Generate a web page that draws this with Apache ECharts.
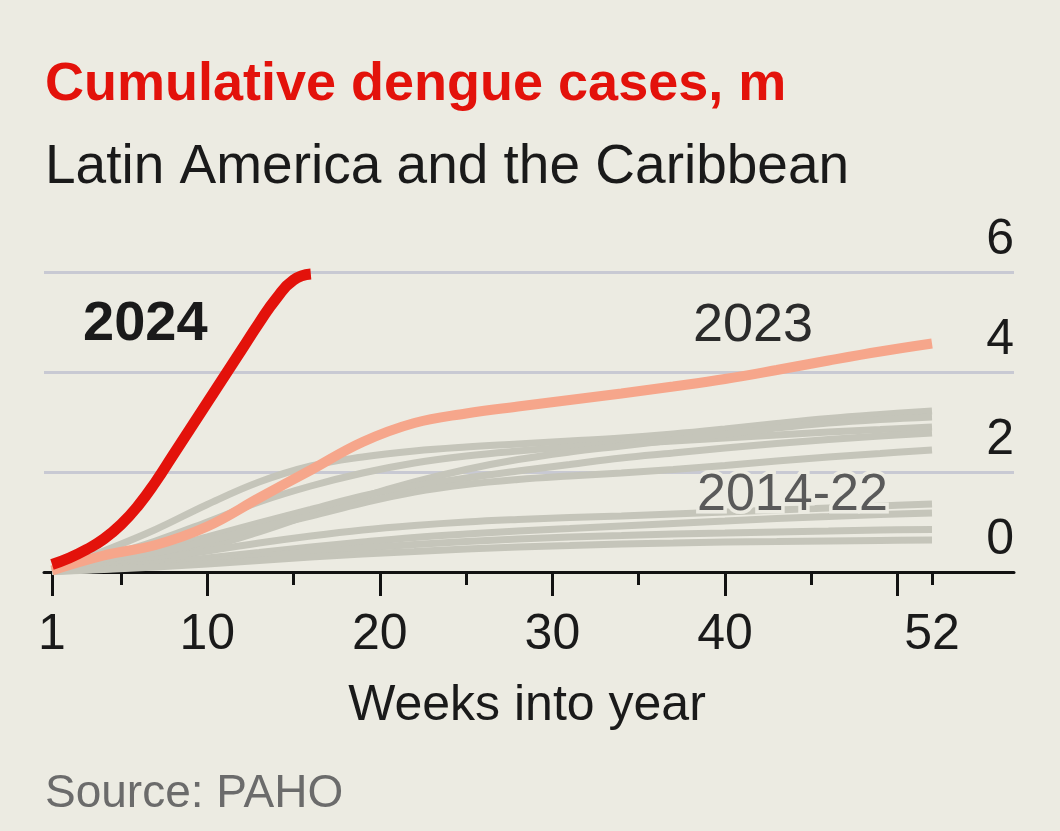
<!DOCTYPE html>
<html>
<head>
<meta charset="utf-8">
<script src="https://cdn.jsdelivr.net/npm/echarts@6/dist/echarts.min.js"></script>
<style>
  html, body { margin: 0; padding: 0; background: #ECEBE2; }
  #chart { width: 1060px; height: 831px; }
</style>
</head>
<body>
<div id="chart"></div>
<script>
// ---- Data, millions of cumulative cases ----
const weeks2024 = [1, 2, 3, 4, 5, 6, 7, 8, 9, 10, 11, 12, 13, 14, 15, 16];
const cases2024 = [0.15, 0.28, 0.45, 0.66, 0.95, 1.33, 1.8, 2.33, 2.86, 3.39, 3.92, 4.45, 4.98, 5.47, 5.84, 5.96];

const weeksYear = [1, 4, 7, 10, 13, 16, 19, 22, 25, 28, 31, 34, 37, 40, 43, 46, 49, 52];
const cases2023 = [0.03, 0.33, 0.54, 0.91, 1.48, 2.04, 2.6, 2.98, 3.17, 3.31, 3.44, 3.57, 3.71, 3.86, 4.04, 4.23, 4.41, 4.57];

// 2014-22 (nine years, drawn as an undifferentiated grey bundle)
const past1 = [0.03, 0.42, 0.85, 1.35, 1.8, 2.12, 2.3, 2.42, 2.5, 2.56, 2.62, 2.68, 2.76, 2.86, 2.97, 3.07, 3.15, 3.22];
const past2 = [0.02, 0.3, 0.62, 1.0, 1.4, 1.72, 1.98, 2.18, 2.32, 2.42, 2.5, 2.56, 2.62, 2.68, 2.74, 2.8, 2.85, 2.9];
const past3 = [0.02, 0.15, 0.3, 0.5, 0.8, 1.15, 1.5, 1.8, 2.05, 2.25, 2.4, 2.52, 2.64, 2.76, 2.88, 2.98, 3.05, 3.1];
const past4 = [0.02, 0.2, 0.42, 0.7, 0.98, 1.25, 1.52, 1.72, 1.88, 2.02, 2.15, 2.28, 2.38, 2.48, 2.57, 2.65, 2.72, 2.78];
const past5 = [0.02, 0.18, 0.38, 0.62, 0.88, 1.12, 1.38, 1.6, 1.75, 1.85, 1.92, 1.98, 2.05, 2.13, 2.22, 2.3, 2.37, 2.44];
const past6 = [0.01, 0.12, 0.25, 0.42, 0.58, 0.72, 0.84, 0.93, 1.0, 1.05, 1.09, 1.12, 1.16, 1.2, 1.24, 1.28, 1.32, 1.36];
const past7 = [0.01, 0.08, 0.17, 0.28, 0.39, 0.5, 0.6, 0.69, 0.76, 0.82, 0.87, 0.92, 0.97, 1.02, 1.07, 1.11, 1.15, 1.18];
const past8 = [0.01, 0.06, 0.13, 0.22, 0.31, 0.4, 0.48, 0.55, 0.61, 0.66, 0.7, 0.73, 0.76, 0.78, 0.8, 0.82, 0.84, 0.85];
const past9 = [0.01, 0.05, 0.1, 0.16, 0.23, 0.3, 0.36, 0.41, 0.46, 0.5, 0.53, 0.56, 0.58, 0.6, 0.61, 0.62, 0.63, 0.64];
const pastYears = [past1, past2, past3, past4, past5, past6, past7, past8, past9];

// Axis ticks and labels
const xLabelWeeks = [1, 10, 20, 30, 40, 52];
const xMajorTicks = [1, 10, 20, 30, 40, 50];
const xMinorTicks = [5, 15, 25, 35, 45, 52];
const yTicks = [0, 2, 4, 6];

// ---- Styling ----
const BG = '#ECEBE2';
const RED = '#E3120B';
const SALMON = '#F6A68B';
const GREY = '#C5C5BA';
const GRID = '#C8C9D3';
const FONT = '"Liberation Sans", Arial, sans-serif';

const pair = (xs, ys) => xs.map((x, i) => [x, ys[i]]);

const series = [];
pastYears.forEach((vals, i) => {
  series.push({
    name: 'past' + i, type: 'line', data: pair(weeksYear, vals), smooth: 0.4,
    showSymbol: false, symbol: 'none', silent: true, z: 3,
    lineStyle: { color: GREY, width: 7 }
  });
});
series.push({
  name: '2023', type: 'line', data: pair(weeksYear, cases2023), smooth: 0.4,
  showSymbol: false, symbol: 'none', z: 4,
  lineStyle: { color: SALMON, width: 10 }
});
series.push({
  name: '2024', type: 'line', data: pair(weeks2024, cases2024), smooth: 0.5,
  showSymbol: false, symbol: 'none', z: 5,
  lineStyle: { color: RED, width: 11 }
});

const chart = echarts.init(document.getElementById('chart'), null, { renderer: 'canvas' });

const option = {
  backgroundColor: BG,
  animation: false,
  grid: { left: 44, right: 46, top: 272, bottom: 259, containLabel: false },
  xAxis: [
    {
      type: 'value', min: 0.536, max: 56.752, position: 'bottom',
      axisLine: { show: true, lineStyle: { color: '#121212', width: 3 } },
      axisTick: { show: true, customValues: xMajorTicks, length: 24, lineStyle: { color: '#121212', width: 3 } },
      axisLabel: {
        show: true, customValues: xLabelWeeks, margin: 38,
        fontFamily: FONT, fontSize: 50, lineHeight: 50, color: '#1A1A1A'
      },
      splitLine: { show: false }
    },
    {
      type: 'value', min: 0.536, max: 56.752, position: 'bottom',
      axisLine: { show: false },
      axisTick: { show: true, customValues: xMinorTicks, length: 13, lineStyle: { color: '#121212', width: 3 } },
      axisLabel: { show: false },
      splitLine: { show: false }
    }
  ],
  yAxis: {
    type: 'value', min: 0, max: 6, interval: 2, position: 'right',
    axisLine: { show: false }, axisTick: { show: false },
    axisLabel: {
      inside: true, margin: 0, align: 'right', verticalAlign: 'bottom',
      lineHeight: 50, padding: [0, 0, 7, 0],
      fontFamily: FONT, fontSize: 50, color: '#1A1A1A',
      customValues: yTicks
    },
    splitLine: { show: true, lineStyle: { color: GRID, width: 3 } }
  },
  graphic: [
    { type: 'text', left: 45, top: 58, style: { text: 'Cumulative dengue cases, m', fill: RED, font: 'bold 54px ' + FONT } },
    { type: 'text', left: 45, top: 140, style: { text: 'Latin America and the Caribbean', fill: '#1A1A1A', font: '55px ' + FONT } },
    { type: 'text', left: 45, top: 771, style: { text: 'Source: PAHO', fill: '#6B6B6B', font: '46px ' + FONT } },
    { type: 'text', x: 527, y: 706, style: { text: 'Weeks into year', fill: '#1A1A1A', font: '50px ' + FONT, align: 'center', verticalAlign: 'middle' } },
    { type: 'text', x: 83, y: 325, z: 10, style: { text: '2024', fill: '#1A1A1A', font: 'bold 56px ' + FONT, align: 'left', verticalAlign: 'middle' } },
    { type: 'text', x: 693, y: 326, z: 10, style: { text: '2023', fill: '#2B2B2B', font: '54px ' + FONT, align: 'left', verticalAlign: 'middle' } },
    { type: 'text', x: 697, y: 496, z: 10, style: { text: '2014-22', fill: '#5A5A5A', font: '52px ' + FONT, align: 'left', verticalAlign: 'middle', stroke: BG, lineWidth: 7 } }
  ],
  series: series
};

chart.setOption(option);
</script>
</body>
</html>
